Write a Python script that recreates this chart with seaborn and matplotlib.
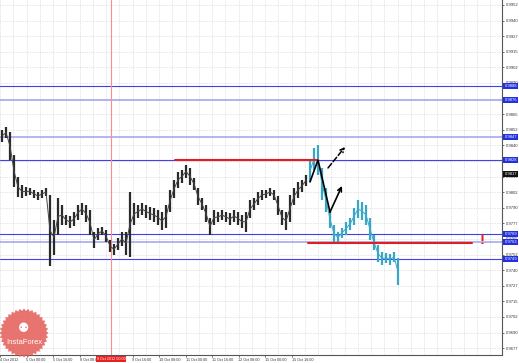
import matplotlib
matplotlib.use("Agg")
import matplotlib.pyplot as plt
import matplotlib.transforms as mtrans
from matplotlib.patches import Polygon
import numpy as np
import pandas as pd
import seaborn as sns

# ---------------- data ----------------
hist_high = [0.98523, 0.98547, 0.98507, 0.98323, 0.98147, 0.98083, 0.98067, 0.98059, 0.98043, 0.98027,
             0.98043, 0.98059, 0.98003, 0.97802, 0.97978, 0.97922, 0.97842, 0.97834, 0.97866, 0.97922,
             0.97938, 0.97922, 0.97882, 0.97706, 0.97738, 0.97746, 0.97722, 0.97642, 0.97610, 0.97658,
             0.97706, 0.97706, 0.98027, 0.97938, 0.97922, 0.97938, 0.97922, 0.97906, 0.97898, 0.97882,
             0.97866, 0.97922, 0.98043, 0.98123, 0.98187, 0.98203, 0.98243, 0.98219, 0.98139, 0.98059,
             0.97978, 0.97922, 0.97818, 0.97882, 0.97866, 0.97882, 0.97866, 0.97858, 0.97882, 0.97866,
             0.97842, 0.97866, 0.97962, 0.97978, 0.98027, 0.98043, 0.98043, 0.98059, 0.98043, 0.97995,
             0.97882, 0.97866, 0.98003, 0.98059, 0.98107, 0.98123, 0.98163]
hist_low = [0.98427, 0.98459, 0.98283, 0.98067, 0.97986, 0.97978, 0.97995, 0.98003, 0.97978, 0.97962,
            0.97978, 0.97995, 0.97434, 0.97522, 0.97682, 0.97762, 0.97762, 0.97738, 0.97754, 0.97802,
            0.97842, 0.97786, 0.97682, 0.97578, 0.97642, 0.97682, 0.97626, 0.97546, 0.97522, 0.97562,
            0.97594, 0.97522, 0.97506, 0.97762, 0.97818, 0.97842, 0.97818, 0.97802, 0.97786, 0.97762,
            0.97722, 0.97738, 0.97866, 0.97978, 0.98059, 0.98099, 0.98139, 0.98083, 0.98043, 0.97922,
            0.97882, 0.97786, 0.97682, 0.97762, 0.97786, 0.97802, 0.97786, 0.97762, 0.97786, 0.97762,
            0.97738, 0.97706, 0.97818, 0.97882, 0.97922, 0.97962, 0.97978, 0.97995, 0.97962, 0.97842,
            0.97762, 0.97722, 0.97786, 0.97922, 0.97978, 0.98027, 0.98075]
after_high = [0.98283, 0.98379, 0.98403, 0.98219, 0.98059, 0.97882, 0.97762, 0.97706, 0.97738, 0.97786,
              0.97818, 0.97898, 0.97962, 0.97946, 0.97922, 0.97818, 0.97682, 0.97602, 0.97546, 0.97538,
              0.97530, 0.97546, 0.97498]
after_low = [0.98107, 0.98203, 0.98163, 0.97962, 0.97866, 0.97738, 0.97626, 0.97618, 0.97658, 0.97682,
             0.97722, 0.97762, 0.97818, 0.97802, 0.97762, 0.97642, 0.97562, 0.97466, 0.97442, 0.97458,
             0.97442, 0.97466, 0.97281]

price_ticks = [0.99525, 0.99400, 0.99275, 0.99150, 0.99025, 0.98900, 0.98775, 0.98650, 0.98525, 0.98400,
               0.98275, 0.98150, 0.98025, 0.97900, 0.97775, 0.97650, 0.97525, 0.97400, 0.97275, 0.97150,
               0.97025, 0.96900, 0.96775]
price_labels = ["0.9952", "0.9940", "0.9927", "0.9915", "0.9902", "0.9890", "0.9877", "0.9865", "0.9852",
                "0.9840", "0.9827", "0.9815", "0.9802", "0.9790", "0.9777", "0.9765", "0.9752", "0.9740",
                "0.9727", "0.9715", "0.9702", "0.9690", "0.9677"]

date_pos = [-0.5, 6.125, 12.75, 19.375, 32.625, 39.25, 45.875, 52.5, 59.125, 65.75, 72.375]
date_labels = ["4 Oct 2012", "5 Oct 00:00", "5 Oct 16:00", "8 Oct 08:00", "9 Oct 16:00", "10 Oct 08:00",
               "11 Oct 00:00", "11 Oct 16:00", "12 Oct 08:00", "15 Oct 00:00", "15 Oct 16:00"]
marker_pos = 27.25
marker_label = "9 Oct 2012 00:00"

blue_levels = [0.98876, 0.98764, 0.98467, 0.98283, 0.97690, 0.97626, 0.97490]
blue_labels = ["0.9888", "0.9876", "0.9847", "0.9828", "0.9769", "0.9763", "0.9749"]
blue_light = [False, True, True, False, False, True, False]
current_price = 0.98171
current_label = "0.9817"

red_levels = [0.98283, 0.97618]
red_start = [43.25, 76.5]
red_end = [79.0, 117.5]
excl_x = 120.0
excl_y = 0.9764

path_x = [77.0, 79.0, 82.0]
path_y = [0.98107, 0.98283, 0.97866]
arrow_tip = (85.0, 0.98075)
dash_from = (81.5, 0.98219)
dash_to = (85.75, 0.98387)

# ---------------- figure ----------------
sns.set_theme(style="white")
plt.rcParams['font.family'] = ['Liberation Sans', 'DejaVu Sans']

W, H = 519, 363
fig = plt.figure(figsize=(W / 100, H / 100), dpi=100)
ax = fig.add_axes([0, 8 / H, 502 / W, 355 / H])
ax.set_facecolor("white")

xmin, xmax = -0.5, 125.0
ymin, ymax = 0.96720, 0.99565
ax.set_xlim(xmin, xmax)
ax.set_ylim(ymin, ymax)

# grid
for gx in np.arange(xmin, xmax, 3.3125):
    ax.axvline(gx, color="#cccccc", lw=0.5, ls=(0, (1, 1.5)), zorder=0)
for gy in price_ticks:
    ax.axhline(gy, color="#cccccc", lw=0.5, ls=(0, (1, 1.5)), zorder=0)

# price bars
hist = pd.DataFrame({"i": np.arange(len(hist_high)), "hi": hist_high, "lo": hist_low})
hist["mid"] = (hist["hi"] + hist["lo"]) / 2
aft = pd.DataFrame({"i": np.arange(len(after_high)) + len(hist_high), "hi": after_high, "lo": after_low})
aft["mid"] = (aft["hi"] + aft["lo"]) / 2

ax.vlines(hist["i"], hist["lo"], hist["hi"], color="#2a2a2a", lw=1.6, zorder=3)
sns.lineplot(data=hist, x="i", y="mid", color="#444444", lw=0.7, ax=ax, zorder=3)
ax.vlines(aft["i"], aft["lo"], aft["hi"], color="#3aa6c6", lw=1.6, zorder=3)
sns.lineplot(data=aft, x="i", y="mid", color="#3aa6c6", lw=0.7, ax=ax, zorder=3)

# horizontal levels
for lv, light in zip(blue_levels, blue_light):
    ax.axhline(lv, color="#a0a0f0" if light else "#4040f0", lw=1.1 if light else 0.8, zorder=2)

for lv, s, e in zip(red_levels, red_start, red_end):
    ax.plot([s, e], [lv, lv], color="#e02020", lw=1.5, zorder=4)
ax.text(excl_x, excl_y, "!", color="#e02020", fontsize=11, fontweight="bold",
        ha="center", va="center", zorder=5)

# vertical marker
ax.axvline(marker_pos, color="#ff8a8a", lw=0.8, zorder=2)

# arrows
ax.plot(path_x, path_y, color="black", lw=1.2, zorder=6, solid_joinstyle="miter")
ax.annotate("", xy=arrow_tip, xytext=(path_x[-1], path_y[-1]),
            arrowprops=dict(arrowstyle="->", color="black", lw=1.2, shrinkA=0, shrinkB=0,
                            mutation_scale=7), zorder=6)
ax.annotate("", xy=dash_to, xytext=dash_from,
            arrowprops=dict(arrowstyle="->", color="black", lw=1.1, ls="--", shrinkA=0, shrinkB=0,
                            mutation_scale=7), zorder=6)

# axes styling
for side in ["left", "top"]:
    ax.spines[side].set_visible(False)
for side in ["right", "bottom"]:
    ax.spines[side].set_color("#555555")
    ax.spines[side].set_linewidth(0.8)

ax.yaxis.tick_right()
ax.set_yticks(price_ticks)
ax.set_yticklabels(price_labels)
ax.tick_params(axis="y", labelsize=3.0, length=1.5, width=0.5, pad=1.2, colors="#333333", right=True)
ax.set_xticks(date_pos)
ax.set_xticklabels(date_labels, ha="left")
ax.tick_params(axis="x", labelsize=2.7, length=1.5, width=0.5, pad=0.8, colors="#333333", bottom=True)
ax.set_xlabel("")
ax.set_ylabel("")

# right-side level labels
ytrans = mtrans.blended_transform_factory(ax.transAxes, ax.transData)
for lv, lab in zip(blue_levels, blue_labels):
    ax.text(1.005, lv, lab, transform=ytrans, ha="left", va="center", fontsize=3.0, color="white",
            bbox=dict(boxstyle="square,pad=0.25", fc="#2230e0", ec="none"), clip_on=False, zorder=7)
ax.text(1.005, current_price, current_label, transform=ytrans, ha="left", va="center", fontsize=3.0,
        color="white", bbox=dict(boxstyle="square,pad=0.25", fc="#111111", ec="none"), clip_on=False, zorder=7)

# marker date label
xtrans = mtrans.blended_transform_factory(ax.transData, ax.transAxes)
ax.text(marker_pos, -0.006, marker_label, transform=xtrans, ha="center", va="top", fontsize=2.7,
        color="white", bbox=dict(boxstyle="square,pad=0.2", fc="#e82020", ec="none"),
        clip_on=False, zorder=7)

# InstaForex badge (watermark)
cx, cy, r1, r2 = 0.24, 0.30, 0.245, 0.222
ang = np.linspace(0, 2 * np.pi, 73)
rad = np.where(np.arange(73) % 2 == 0, r1, r2)
pts = np.column_stack([cx + rad * np.cos(ang), cy + rad * np.sin(ang)])
badge = Polygon(pts, closed=True, fc="#e45c57", ec="none", alpha=0.85,
                transform=fig.dpi_scale_trans, zorder=8)
fig.patches.append(badge)
fig.text(cx, cy + 0.04, "\u2689", transform=fig.dpi_scale_trans, ha="center", va="center",
         family="DejaVu Sans", fontsize=9, color="white", zorder=9)
fig.text(cx, cy - 0.09, "InstaForex", transform=fig.dpi_scale_trans, ha="center", va="center",
         fontsize=5.5, color="white", zorder=9)

fig.savefig("out.png", dpi=100)
